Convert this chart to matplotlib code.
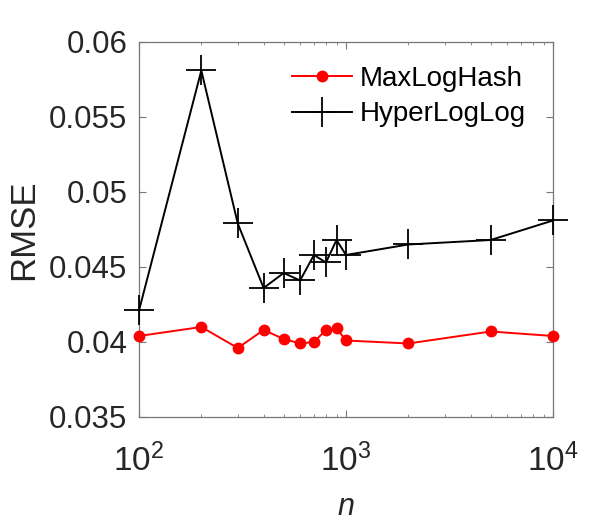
import matplotlib
matplotlib.use("Agg")
import matplotlib.pyplot as plt

plt.rcParams['font.family'] = ['Liberation Sans', 'DejaVu Sans']
plt.rcParams['mathtext.fontset'] = 'custom'
plt.rcParams['mathtext.rm'] = 'Liberation Sans'
plt.rcParams['mathtext.it'] = 'Liberation Sans:italic'

n = [100, 200, 300, 400, 500, 600, 700, 800, 900, 1000, 2000, 5000, 10000]
maxloghash = [0.0404, 0.0410, 0.0396, 0.0408, 0.0402, 0.0399, 0.0400, 0.0408, 0.0409, 0.0401, 0.0399, 0.0407, 0.0404]
hyperloglog = [0.0421, 0.0581, 0.0479, 0.0436, 0.0446, 0.0441, 0.0458, 0.0453, 0.0468, 0.0458, 0.0465, 0.0468, 0.0481]

fig = plt.figure(figsize=(6.11, 5.23), dpi=100)
ax = fig.add_axes([0.2275, 0.2027, 0.6776, 0.717])

ax.plot(n, maxloghash, color='red', marker='o', markersize=7.5, linewidth=1.4,
        label='MaxLogHash', clip_on=False, zorder=3)
ax.plot(n, hyperloglog, color='black', marker='+', markersize=22, markeredgewidth=1.3,
        linewidth=1.4, label='HyperLogLog', clip_on=False, zorder=3)

ax.set_xscale('log')
ax.set_xlim(100, 10000)
ax.set_ylim(0.035, 0.06)
ax.set_yticks([0.035, 0.04, 0.045, 0.05, 0.055, 0.06])
ax.set_yticklabels(['0.035', '0.04', '0.045', '0.05', '0.055', '0.06'])

for s in ax.spines.values():
    s.set_color('#777777')
    s.set_linewidth(0.9)
ax.tick_params(which='both', direction='in', top=True, right=True, colors='#777777')
ax.tick_params(which='major', length=5)
ax.tick_params(which='minor', length=2.5)
ax.tick_params(axis='y', labelsize=22.5, labelcolor='#262626', pad=8.5)
ax.tick_params(axis='x', labelsize=24, labelcolor='#262626', pad=19)

ax.set_xlabel('$n$', fontsize=22, color='#262626', labelpad=10)
ax.set_ylabel('RMSE', fontsize=25, color='#262626', labelpad=6)

ax.legend(loc='upper left', bbox_to_anchor=(0.37, 0.937), frameon=False, fontsize=20,
          handlelength=2.16, handletextpad=0.29, borderaxespad=0, borderpad=0,
          labelspacing=0.35)

plt.savefig('out.png', dpi=100)
